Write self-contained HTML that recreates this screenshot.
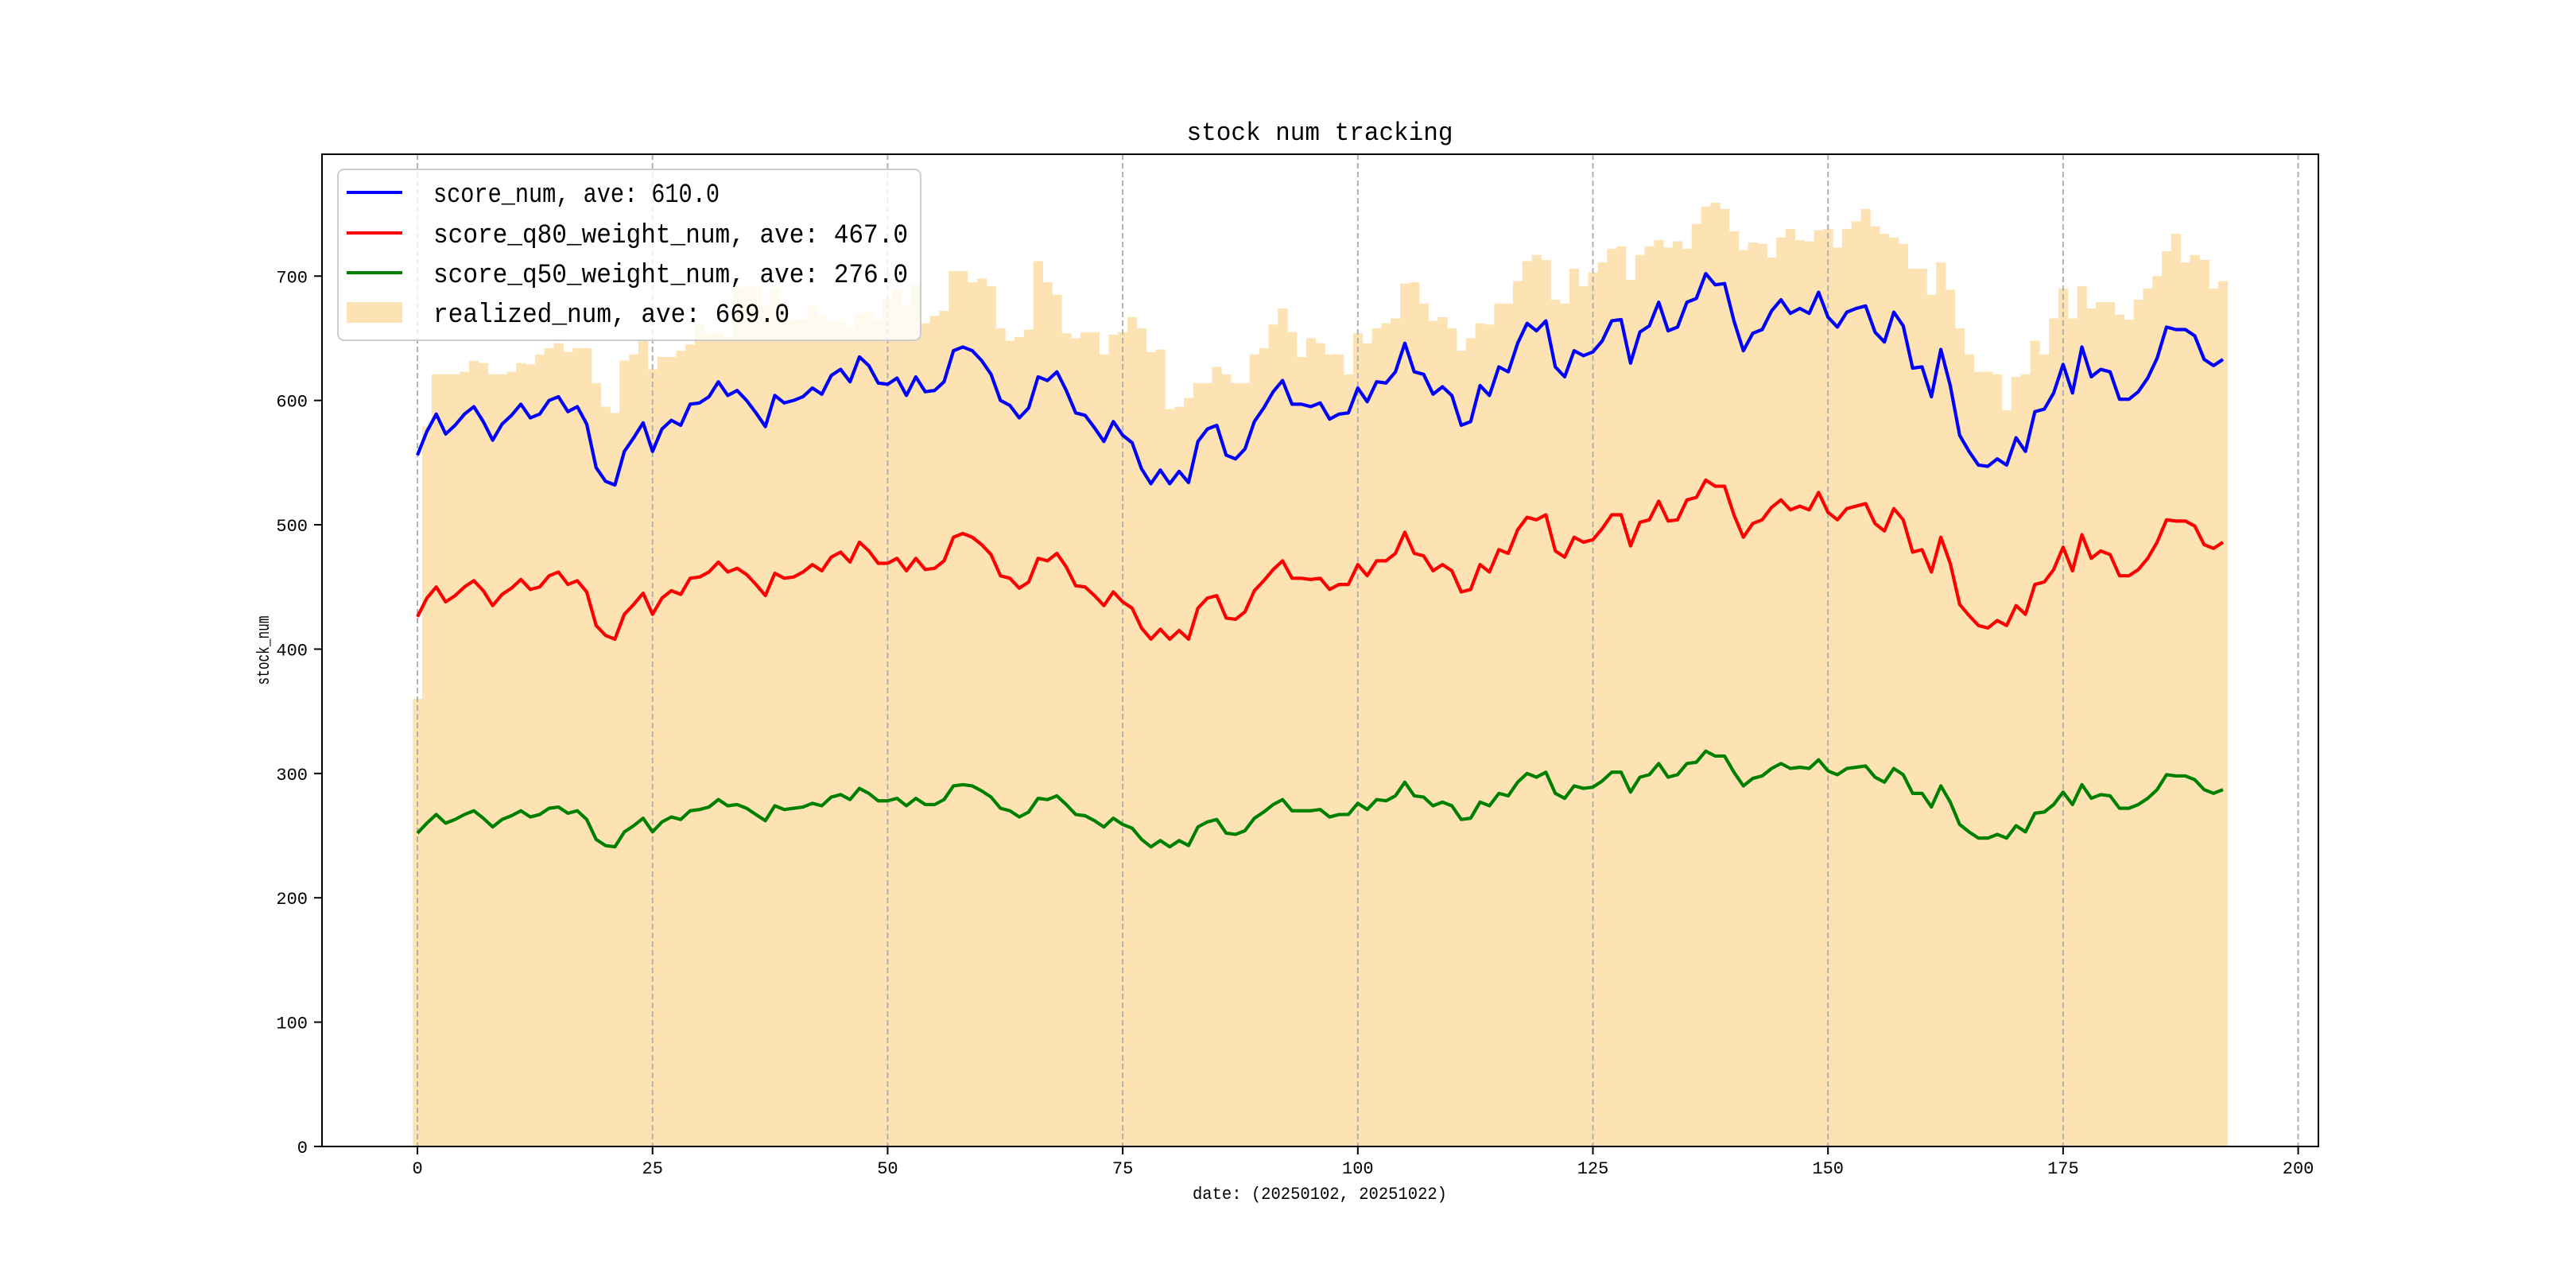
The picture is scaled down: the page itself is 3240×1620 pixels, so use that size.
<!DOCTYPE html>
<html><head><meta charset="utf-8">
<style>
html,body{margin:0;padding:0;background:#fff;}
svg{display:block;}
text{font-family:"Liberation Mono","WenQuanYi Zen Hei",monospace;fill:#000;}
</style></head>
<body>
<svg id="chart" width="3240" height="1620" viewBox="0 0 3240 1620" xmlns="http://www.w3.org/2000/svg">
<rect x="0" y="0" width="3240" height="1620" fill="#fff"/>
<g id="bars"></g>
<g id="grid"></g>
<g id="lines"></g>
<rect x="405" y="194" width="2511" height="1248" fill="none" stroke="#000" stroke-width="2"/>
<g id="xticks"></g>
<g id="yticks"></g>
<text x="1660" y="176" font-size="32" text-anchor="middle" textLength="335" lengthAdjust="spacingAndGlyphs">stock num tracking</text>
<text x="1660" y="1508" font-size="22" text-anchor="middle" textLength="320" lengthAdjust="spacingAndGlyphs">date: (20250102, 20251022)</text>
<text x="338" y="818" font-size="22" text-anchor="middle" textLength="87" lengthAdjust="spacingAndGlyphs" transform="rotate(-90 338 818)">stock_num</text>
<g id="legend">
<rect x="425" y="213" width="733" height="215" rx="8" fill="#fff" fill-opacity="0.8" stroke="#cccccc" stroke-width="2"/>
<line x1="436" y1="242" x2="506" y2="242" stroke="#0000ff" stroke-width="4"/>
<text x="545" y="254" font-size="34" textLength="360" lengthAdjust="spacingAndGlyphs">score_num, ave: 610.0</text>
<line x1="436" y1="293" x2="506" y2="293" stroke="#ff0000" stroke-width="4"/>
<text x="545" y="305" font-size="34" textLength="597" lengthAdjust="spacingAndGlyphs">score_q80_weight_num, ave: 467.0</text>
<line x1="436" y1="343" x2="506" y2="343" stroke="#008000" stroke-width="4"/>
<text x="545" y="355" font-size="34" textLength="597" lengthAdjust="spacingAndGlyphs">score_q50_weight_num, ave: 276.0</text>
<rect x="436" y="380" width="70" height="26" fill="#fde3b3"/>
<text x="545" y="405" font-size="34" textLength="448" lengthAdjust="spacingAndGlyphs">realized_num, ave: 669.0</text>
</g>
</svg>
<script>
const realized = [360,579,621,621,621,623,632,630,621,621,623,630,629,637,642,646,639,642,642,614,595,590,632,637,649,625,635,635,640,645,661,654,655,651,690,692,692,676,690,678,665,665,676,668,664,664,659,670,671,
665,682,690,677,694,662,668,672,704,704,695,698,692,658,648,651,657,712,695,685,654,650,655,655,637,653,655,667,658,639,641,593,595,602,614,614,627,621,614,614,637,642,661,674,655,635,650,646,637,637,
621,654,646,658,662,666,694,695,678,664,667,658,640,650,662,661,678,678,696,712,717,713,681,678,706,692,703,711,722,724,697,717,724,729,723,728,722,742,756,759,754,736,721,727,726,715,731,738,729,728,
737,738,723,738,744,754,740,734,731,726,706,706,685,711,689,658,637,623,623,621,592,619,621,648,637,666,690,666,692,674,679,679,669,665,681,690,700,720,734,711,717,713,690,696];
const scoreNum = [556,575,589,573,580,589,595,583,568,581,588,597,586,589,600,603,591,595,581,546,535,532,559,570,582,559,577,584,580,597,598,603,615,604,608,600,590,579,604,598,600,603,610,605,620,625,615,635,628,
614,613,618,604,619,607,608,615,640,643,640,632,621,600,596,586,594,619,616,623,608,590,588,578,567,583,572,566,545,533,544,533,543,534,567,577,580,556,553,561,583,594,607,616,597,597,595,598,585,589,
590,610,599,615,614,623,646,623,621,605,611,604,580,583,612,604,627,623,646,662,656,664,627,619,640,636,639,648,664,665,630,655,660,679,656,659,679,682,702,693,694,664,640,654,657,672,681,670,674,670,
687,667,659,671,674,676,655,647,671,660,626,627,603,641,612,572,559,548,547,553,548,570,559,591,593,606,629,606,643,619,625,623,601,601,607,618,634,659,657,657,652,633,628,633];
const q80Num = [426,441,450,438,443,450,455,447,435,444,449,456,448,450,459,462,452,455,446,419,411,408,428,436,445,428,441,447,444,457,458,462,470,462,465,460,452,443,461,457,458,462,468,463,474,478,470,486,479,
469,469,473,463,473,464,465,471,490,493,490,484,476,459,457,449,454,473,471,477,466,451,450,443,435,446,438,433,417,408,416,408,415,408,433,441,443,425,424,430,447,455,464,471,457,457,456,457,448,452,
452,468,459,471,471,477,494,477,475,463,468,463,446,448,468,462,480,477,496,506,504,508,479,474,490,486,488,497,508,508,483,502,504,519,503,504,520,522,536,531,531,508,490,501,504,514,520,512,515,512,
526,510,504,513,515,517,501,495,513,504,478,480,462,490,469,436,427,419,417,423,419,435,428,452,454,464,482,463,492,473,479,476,459,459,464,473,486,504,503,503,499,484,481,486];
const q50Num = [252,260,267,260,263,267,270,264,257,263,266,270,265,267,272,273,268,270,263,247,242,241,253,258,264,253,261,265,263,270,271,273,279,274,275,272,267,262,274,271,272,273,276,274,281,283,279,288,284,
278,278,280,274,280,275,275,279,290,291,290,286,281,272,270,265,269,280,279,282,275,267,266,262,257,264,259,256,247,241,246,241,246,242,257,261,263,252,251,254,264,269,275,279,270,270,270,271,265,267,
267,276,271,279,278,282,293,282,281,274,277,274,263,264,277,274,284,282,293,300,297,301,284,280,290,288,289,294,301,301,285,297,299,308,297,299,308,309,318,314,314,301,290,296,298,304,308,304,305,304,
311,302,299,304,305,306,297,293,304,299,284,284,273,290,277,259,253,248,248,251,248,258,253,268,269,275,285,275,291,280,283,282,272,272,275,280,287,299,298,298,295,287,284,287];
const xTicks = [0,25,50,75,100,125,150,175,200];
const yTicks = [0,100,200,300,400,500,600,700];

const L=405,R=2916,T=194,B=1442;
const XMIN=-10.15,XMAX=202.15,YMIN=0,YMAX=798;
function xs(v){return L+(v-XMIN)/(XMAX-XMIN)*(R-L);}
function ys(v){return B-(v-YMIN)/(YMAX-YMIN)*(B-T);}
const NS='http://www.w3.org/2000/svg';
function mk(tag,attrs,parent){const e=document.createElementNS(NS,tag);for(const k in attrs)e.setAttribute(k,attrs[k]);parent.appendChild(e);return e;}

const gb=document.getElementById('bars');
realized.forEach((v,i)=>{
  const x0=xs(i-0.5),x1=xs(i+0.5);
  const r=mk('rect',{x:x0,y:ys(v),width:x1-x0+0.4,height:ys(0)-ys(v),fill:'#fde3b3'},gb);
  
  
});

const gg=document.getElementById('grid');
xTicks.forEach(t=>{
  const l=mk('line',{x1:xs(t),x2:xs(t),y1:T,y2:B,stroke:'#b0b0b0','stroke-width':2,'stroke-dasharray':'7,4'},gg);
  
  
});

const gl=document.getElementById('lines');
[[scoreNum,'#0000ff','score-num-line'],[q80Num,'#ff0000','q80-weight-line'],[q50Num,'#008000','q50-weight-line']].forEach(s=>{
  const pts=s[0].map((v,i)=>xs(i).toFixed(2)+','+ys(v).toFixed(2)).join(' ');
  const p=mk('polyline',{points:pts,fill:'none',stroke:s[1],'stroke-width':4.2,'stroke-linejoin':'round'},gl);
  
  
});

const gx=document.getElementById('xticks');
xTicks.forEach(t=>{
  const l=mk('line',{x1:xs(t),x2:xs(t),y1:B,y2:B+10,stroke:'#000','stroke-width':2},gx);
  
  
  const tx=mk('text',{x:xs(t),y:B+34,'font-size':22,'text-anchor':'middle'},gx);
  tx.textContent=String(t);
  
  
});
const gy=document.getElementById('yticks');
yTicks.forEach(t=>{
  const l=mk('line',{x1:L-10,x2:L,y1:ys(t),y2:ys(t),stroke:'#000','stroke-width':2},gy);
  
  
  const tx=mk('text',{x:L-18,y:ys(t)+8,'font-size':22,'text-anchor':'end'},gy);
  tx.textContent=String(t);
  
  
});
</script>
</body></html>
